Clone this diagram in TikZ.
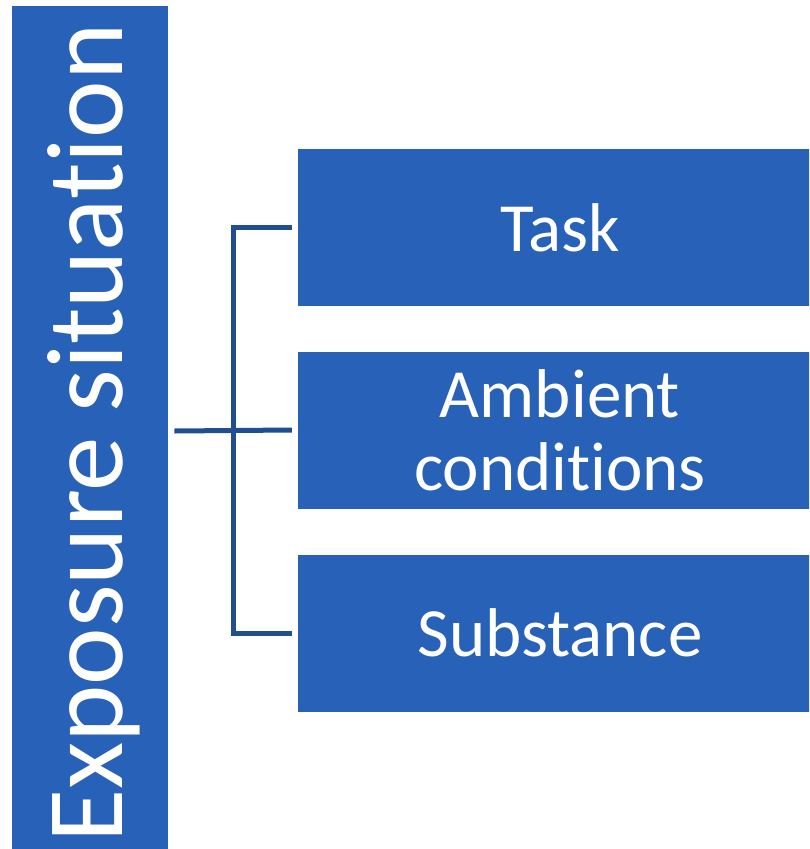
\documentclass[tikz,border=0pt]{standalone}
\usepackage{fontspec}
\setmainfont[Ligatures=NoCommon]{Carlito}
\definecolor{boxblue}{RGB}{40,98,184}
\definecolor{lineblue}{RGB}{31,78,145}
\tikzset{
  bar/.style={fill=boxblue, inner sep=0pt, anchor=north west},
  item/.style={fill=boxblue, text=white, inner sep=0pt, minimum width=524pt,
    minimum height=157pt, align=center, font=\fontsize{69}{73}\selectfont},
  link/.style={draw=lineblue, line width=5pt}
}
\begin{document}
\begin{tikzpicture}[x=1pt,y=-1pt]
\useasboundingbox (0,0) rectangle (809,849);
\clip (0,0) rectangle (809,849);

% left bar with the rotated title
\node[bar, minimum width=156pt, minimum height=860pt] (expo) at (12,6) {};
\node[rotate=90, anchor=base west, inner sep=0pt, text=white,
  font=\fontsize{109}{120}\selectfont] (title) at (122,843) {Exposure situation};

% the three boxes
\node[item] (task) at (560,227.5) {Task};
\node[item] (ambient) at (560,430) {Ambient\\conditions};
\node[item] (substance) at (560,633) {Substance};

% connectors
\coordinate (fork) at (233,431);
\draw[link] ([xshift=6pt]expo.east |- fork) -- ([xshift=-6pt]ambient.west);
\draw[link] ([xshift=-6pt]task.west) -| (fork) |- ([xshift=-6pt]substance.west);
\end{tikzpicture}
\end{document}
